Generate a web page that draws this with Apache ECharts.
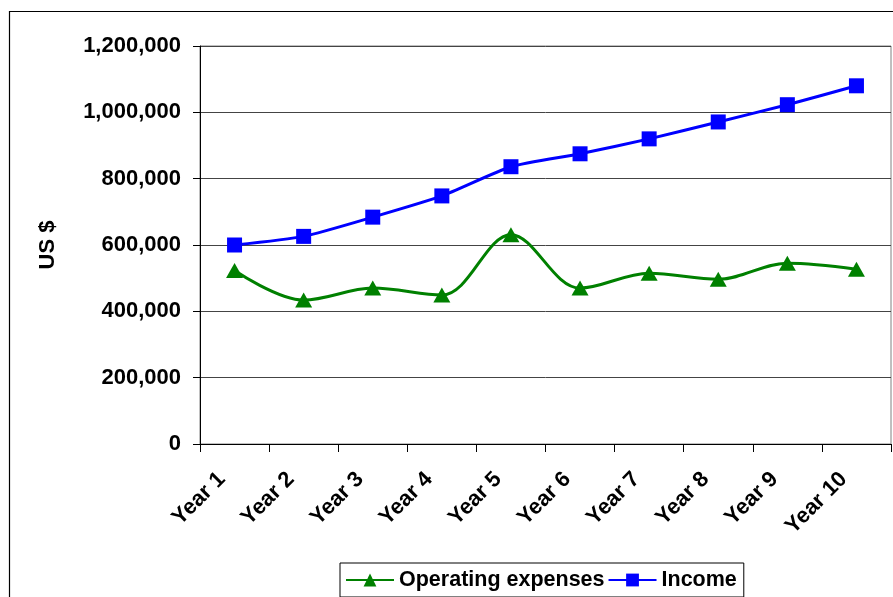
<!DOCTYPE html>
<html>
<head>
<meta charset="utf-8">
<script src="https://cdn.jsdelivr.net/npm/echarts@6/dist/echarts.min.js"></script>
<style>
  html, body { margin: 0; padding: 0; background: #fff; }
  #chart { width: 893px; height: 597px; }
</style>
</head>
<body>
<div id="chart"></div>
<script>
// Ten-year projection: operating expenses vs. income (US $)
const years = ['Year 1', 'Year 2', 'Year 3', 'Year 4', 'Year 5', 'Year 6', 'Year 7', 'Year 8', 'Year 9', 'Year 10'];
const operatingExpenses = [523000, 434000, 470000, 449000, 631000, 470000, 515000, 497000, 545000, 527000];
const income = [600000, 626000, 684000, 748000, 836000, 875000, 920000, 971000, 1023000, 1080000];
const yTicks = { min: 0, max: 1200000, interval: 200000 };

const FONT = '"Liberation Sans", Arial, sans-serif';
const textBold = { fontFamily: FONT, fontWeight: 'bold', fontSize: 22, color: '#000' };

const chart = echarts.init(document.getElementById('chart'), null, { renderer: 'canvas' });

chart.setOption({
  backgroundColor: '#fff',
  animation: false,
  graphic: [{
    type: 'rect',
    shape: { x: 9.5, y: 11.5, width: 1000, height: 1000 },
    style: { fill: 'none', stroke: '#000', lineWidth: 1.2 },
    silent: true,
    z: -1
  }],
  grid: {
    left: 200, right: 2, top: 46, bottom: 153,
    show: true,
    borderColor: '#808080',
    borderWidth: 1,
    backgroundColor: 'transparent'
  },
  legend: {
    left: 340, top: 563,
    padding: [6, 7, 6, 5],
    borderColor: '#000',
    borderWidth: 1,
    itemWidth: 48,
    itemHeight: 16,
    itemGap: 3,
    textStyle: Object.assign({}, textBold, { fontSize: 21.5 }),
    data: ['Operating expenses', 'Income']
  },
  xAxis: {
    type: 'category',
    data: years,
    boundaryGap: true,
    axisLine: { lineStyle: { color: '#000', width: 1 } },
    axisTick: { show: true, length: 8, alignWithLabel: false, lineStyle: { color: '#000' } },
    axisLabel: Object.assign({}, textBold, { rotate: 45, margin: 19, interval: 0, padding: [0, 18, 0, 0] }),
    splitLine: { show: false }
  },
  yAxis: {
    type: 'value',
    min: yTicks.min, max: yTicks.max, interval: yTicks.interval,
    name: 'US $',
    nameLocation: 'middle',
    nameRotate: 90,
    nameGap: 141,
    nameTextStyle: textBold,
    axisLine: { show: true, lineStyle: { color: '#000', width: 1 } },
    axisTick: { show: true, length: 7, lineStyle: { color: '#000' } },
    axisLabel: Object.assign({}, textBold, {
      margin: 19,
      formatter: v => v.toLocaleString('en-US')
    }),
    splitLine: { show: true, lineStyle: { color: '#444', width: 1 } }
  },
  series: [
    {
      name: 'Operating expenses',
      type: 'line',
      data: operatingExpenses,
      smooth: 0.35,
      symbol: 'triangle',
      symbolSize: [17, 15],
      lineStyle: { color: '#008000', width: 3 },
      itemStyle: { color: '#008000' },
      z: 3
    },
    {
      name: 'Income',
      type: 'line',
      data: income,
      smooth: 0.2,
      symbol: 'rect',
      symbolSize: 15,
      lineStyle: { color: '#0000ff', width: 3 },
      itemStyle: { color: '#0000ff' },
      z: 4
    }
  ]
});
</script>
</body>
</html>
